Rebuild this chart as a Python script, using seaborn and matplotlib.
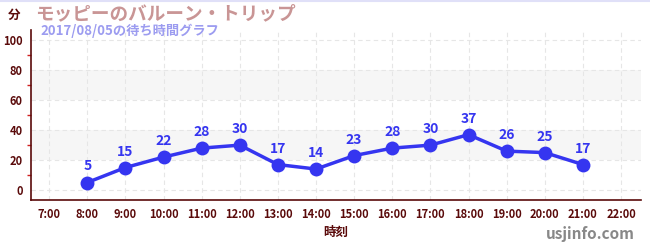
import matplotlib
matplotlib.use("Agg")
import matplotlib.pyplot as plt
import seaborn as sns
import pandas as pd

# data
hours = [8, 9, 10, 11, 12, 13, 14, 15, 16, 17, 18, 19, 20, 21]
waits = [5, 15, 22, 28, 30, 17, 14, 23, 28, 30, 37, 26, 25, 17]
tick_hours = list(range(7, 23))
tick_labels = [f"{h}:00" for h in tick_hours]
title = "モッピーのバルーン・トリップ"
subtitle = "2017/08/05の待ち時間グラフ"

sns.set_style("white")
plt.rcParams['font.family'] = ['Noto Sans CJK JP', 'DejaVu Sans']

df = pd.DataFrame({"hour": hours, "wait": waits})
line_color = "#3535f0"
axis_color = "#5a0a0a"

fig = plt.figure(figsize=(6.5, 2.5), dpi=100)
ax = fig.add_axes([0.048, 0.2, 0.938, 0.68])

# gray bands
for lo, hi in [(20, 40), (60, 80)]:
    ax.axhspan(lo, hi, color="#f6f6f6", zorder=0, lw=0)

sns.lineplot(data=df, x="hour", y="wait", ax=ax, color=line_color, lw=2.5,
             marker="o", markersize=10, markeredgewidth=0, zorder=3)

for h, w in zip(hours, waits):
    ax.annotate(str(w), (h, w), xytext=(0, 6.5), textcoords="offset points",
                ha="center", va="bottom", color=line_color, fontsize=10,
                fontweight="bold")

ax.set_xlim(6.53, 22.52)
ax.set_ylim(-6.7, 107)
ax.set_xticks(tick_hours)
ax.set_xticklabels(tick_labels)
ax.set_yticks([0, 20, 40, 60, 80, 100])
ax.set_yticks([10, 30, 50, 70, 90], minor=True)
ax.grid(True, which="major", color="#e6e6e6", ls=(0, (4, 3)), lw=0.8)
ax.set_axisbelow(True)

for s in ["top", "right"]:
    ax.spines[s].set_visible(False)
for s in ["left", "bottom"]:
    ax.spines[s].set_color(axis_color)
    ax.spines[s].set_linewidth(1.2)

ax.tick_params(axis="both", which="major", length=4, width=1, color=axis_color,
               labelcolor=axis_color, labelsize=8, pad=2)
ax.tick_params(axis="y", which="minor", length=3, width=1, color="#d02020", left=True)
ax.tick_params(axis="x", which="major", direction="out")
for lab in ax.get_xticklabels() + ax.get_yticklabels():
    lab.set_fontweight("bold")

ax.set_xlabel("時刻", color=axis_color, fontsize=9, fontweight="bold", labelpad=3)
ax.set_ylabel("")

fig.text(0.022, 0.94, "分", color=axis_color, fontsize=9, fontweight="bold",
         ha="center", va="center")
fig.text(0.054, 0.945, title, color="#c99595", fontsize=13.4, fontweight="bold",
         ha="left", va="center")
fig.text(0.062, 0.875, subtitle, color="#9c9cf0", fontsize=9.5, fontweight="bold",
         ha="left", va="center")
fig.text(0.976, 0.065, "usjinfo.com", color="#888888", fontsize=11,
         fontweight="bold", ha="right", va="center")

# light border line at top
fig.add_artist(plt.Line2D([0, 1], [0.998, 0.998], color="#e0e0f8", lw=1.5))

fig.savefig("out.png", dpi=100)
